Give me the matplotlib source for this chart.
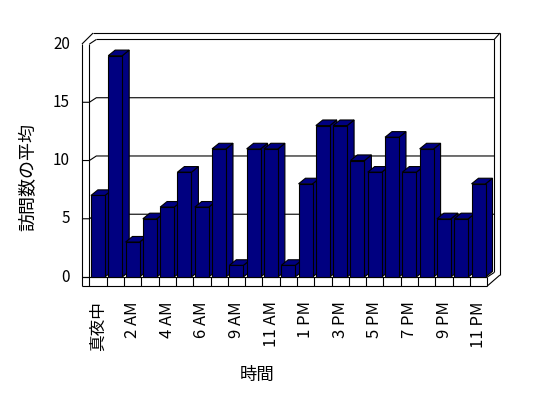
import numpy as np
import matplotlib.pyplot as plt
from matplotlib.patches import Polygon

plt.rcParams['font.family'] = ['Noto Sans CJK JP', 'DejaVu Sans']

# Data
hours = ['真夜中', '1 AM', '2 AM', '3 AM', '4 AM', '5 AM', '6 AM', '8 AM', '9 AM',
         '10 AM', '11 AM', '正午', '1 PM', '2 PM', '3 PM', '4 PM', '5 PM', '6 PM',
         '7 PM', '8 PM', '9 PM', '10 PM', '11 PM']
visits = [7, 19, 3, 5, 6, 9, 6, 11, 1, 11, 11, 1, 8, 13, 13, 10, 9, 12, 9, 11, 5, 5, 8]
yticks = [0, 5, 10, 15, 20]

# 3D look parameters (data units)
n = len(hours)
ymax = 20
DX, DY = 0.40, 0.39      # depth of back wall
BDY = 0.48               # depth of bar tops
WT = 0.43                # left wall thickness
FT = 0.77                # floor thickness
gap, bw = 0.09, 0.81
navy = '#000080'
lw = 0.8

fig = plt.figure(figsize=(5.48, 3.98), dpi=100)
ax = fig.add_axes([0, 0, 1, 1])
ax.set_xlim(-5.168, 26.509)
ax.set_ylim(-10.386, 23.78)
ax.axis('off')

def line(xs, ys, z=2):
    ax.plot(xs, ys, color='black', lw=lw, zorder=z, solid_capstyle='butt')

# back wall and gridlines
line([DX, n + DX], [ymax + DY, ymax + DY])
line([n + DX, n + DX], [DY, ymax + DY])
for v in yticks[1:-1]:
    line([-WT, 0, DX, n + DX], [v, v, v + DY, v + DY], z=1)
line([-WT, 0], [0, 0])

# left wall
line([0, 0], [-FT, ymax])
line([-WT, -WT], [-FT, ymax])
line([0, DX], [ymax, ymax + DY])
line([-WT, 0.21], [ymax, ymax + 0.94])
line([0.21, n + 0.73], [ymax + 0.94, ymax + 0.94])
line([n + DX, n + 0.73], [ymax + DY, ymax + 0.94])
line([n + 0.73, n + 0.73], [0.17, ymax + 0.94])

# floor
line([-WT, n], [0, 0])
line([-WT, n], [-FT, -FT])
for k in range(1, n + 1):
    line([k, k], [-FT, 0])
line([n, n + DX], [0, DY])
line([n, n + 0.73], [-FT, 0.17])

# bars
x = np.arange(n)
bars = ax.bar(x + gap, visits, width=bw, align='edge', color=navy,
              edgecolor='black', linewidth=lw)
for k, (p, v) in enumerate(zip(bars, visits)):
    z = 3 + k * 0.01
    p.set_zorder(z + 0.005)
    xl, xr = k + gap, k + gap + bw
    side = Polygon([(xr, 0), (xr, v), (xr + DX, v + BDY), (xr + DX, BDY)],
                   closed=True, facecolor=navy, edgecolor='black', lw=lw, zorder=z)
    top = Polygon([(xl, v), (xr, v), (xr + DX, v + BDY), (xl + DX, v + BDY)],
                  closed=True, facecolor=navy, edgecolor='black', lw=lw, zorder=z)
    ax.add_patch(side)
    ax.add_patch(top)

# tick labels
for v in yticks:
    ax.text(-1.12, v, str(v), ha='right', va='center', fontsize=11)
for k in range(0, n, 2):
    ax.text(k + 0.5, -2.1, hours[k], rotation=90, ha='center', va='top', fontsize=12)

ax.text(-3.55, 8.58, '訪問数の平均', rotation=90, ha='center', va='center', fontsize=13)
ax.text(9.72, -8.37, '時間', ha='center', va='center', fontsize=12.5)

fig.savefig('out.png', dpi=100)
